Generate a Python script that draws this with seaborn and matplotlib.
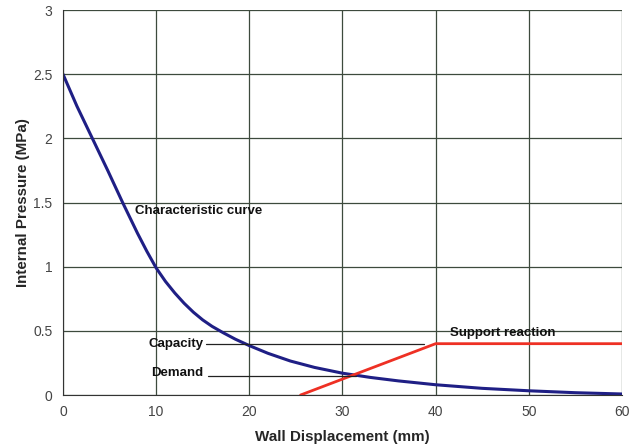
import numpy as np
import pandas as pd
import matplotlib
matplotlib.use("Agg")
import matplotlib.pyplot as plt
import seaborn as sns

# characteristic curve
disp_curve = [0, 1.5, 3.15, 4.8, 6.4, 8, 9, 10, 11, 12, 13, 14, 15, 16, 17.2, 18.5, 20, 22, 24.4, 27, 30, 33, 36, 40, 45, 50, 55, 60]
pres_curve = [2.5, 2.25, 2.0, 1.75, 1.5, 1.26, 1.12, 0.99, 0.885, 0.795, 0.715, 0.645, 0.585, 0.535, 0.485, 0.435, 0.385,
              0.325, 0.265, 0.215, 0.17, 0.137, 0.11, 0.08, 0.052, 0.033, 0.018, 0.008]

# support reaction
disp_support = [25.5, 40, 60]
pres_support = [0.0, 0.4, 0.4]

# capacity / demand leader lines
capacity_x = [15.3, 38.7]
capacity_y = [0.4, 0.4]
demand_x = [15.6, 31.5]
demand_y = [0.15, 0.15]

sns.set_style("white")
plt.rcParams['font.family'] = ['Liberation Sans', 'DejaVu Sans']

fig = plt.figure(figsize=(6.35, 4.47), dpi=100)
ax = fig.add_axes([0.0992, 0.1163, 0.8803, 0.8613])

curve = pd.DataFrame({'x': disp_curve, 'y': pres_curve})
support = pd.DataFrame({'x': disp_support, 'y': pres_support})

sns.lineplot(data=curve, x='x', y='y', ax=ax, color='#1f1f85', linewidth=2.2)
sns.lineplot(data=support, x='x', y='y', ax=ax, color='#ee3024', linewidth=2)
ax.plot(capacity_x, capacity_y, color='#222222', linewidth=0.9)
ax.plot(demand_x, demand_y, color='#222222', linewidth=0.9)

ax.text(7.7, 1.43, 'Characteristic curve', fontsize=9.5, fontweight='bold', va='center', color='#111111')
ax.text(9.2, 0.4, 'Capacity', fontsize=9.5, fontweight='bold', va='center', color='#111111')
ax.text(9.5, 0.17, 'Demand', fontsize=9.5, fontweight='bold', va='center', color='#111111')
ax.text(41.5, 0.48, 'Support reaction', fontsize=9.5, fontweight='bold', va='center', color='#111111')

ax.set_xlim(0, 60)
ax.set_ylim(0, 3)
ax.set_xticks(np.arange(0, 61, 10))
ax.set_yticks(np.arange(0, 3.01, 0.5))
ax.set_yticklabels(['0', '0.5', '1', '1.5', '2', '2.5', '3'])
ax.grid(True, color='#3d4a3d', linewidth=0.9)
for s in ax.spines.values():
    s.set_visible(False)
ax.spines['left'].set_visible(True)
ax.spines['bottom'].set_visible(True)
ax.spines['left'].set_color('#333333')
ax.spines['bottom'].set_color('#333333')
ax.tick_params(axis='both', labelsize=10, labelcolor='#444444', color='#333333', length=4, width=0.9)
ax.tick_params(axis='x', direction='inout', length=7)
ax.tick_params(axis='y', direction='out')

ax.set_xlabel('Wall Displacement (mm)', fontsize=10.9, fontweight='bold', labelpad=8)
ax.set_ylabel('Internal Pressure (MPa)', fontsize=10.9, fontweight='bold', labelpad=2)

fig.savefig('out.png', dpi=100)
